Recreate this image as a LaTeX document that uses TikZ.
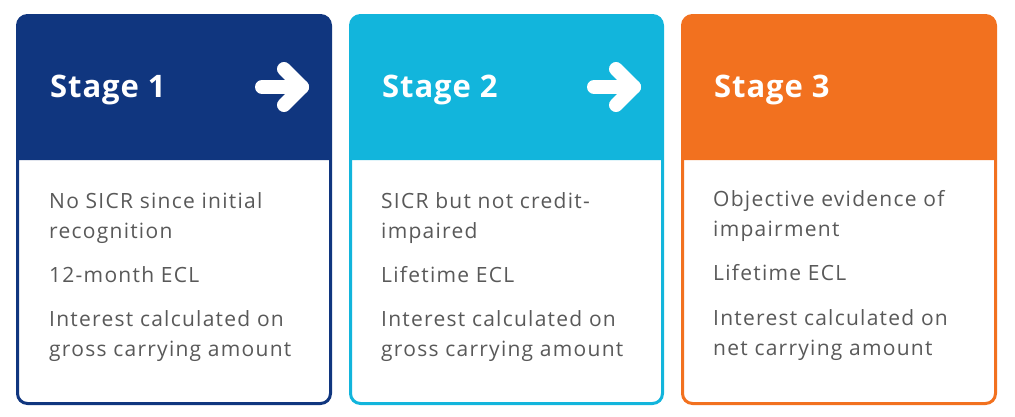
\documentclass[tikz,border=0pt]{standalone}
\usepackage{fontspec}
\setmainfont{Open Sans}
\newfontfamily\bodyfont[LetterSpace=6]{Open Sans}
\newfontfamily\titlefont[LetterSpace=3]{Open Sans}
\definecolor{cA}{HTML}{10367F}
\definecolor{cB}{HTML}{12B5DC}
\definecolor{cC}{HTML}{F2711F}
\definecolor{bodygrey}{HTML}{595959}
\tikzset{
  cardborder/.style={line width=3pt, rounded corners=10pt, fill=white},
  stagetitle/.style={anchor=base west, inner sep=0pt, text=white, font=\titlefont\fontsize{31}{36}\selectfont\bfseries},
  bodytext/.style={anchor=base west, inner sep=0pt, text=bodygrey, align=left, font=\bodyfont\fontsize{21}{30}\selectfont},
  arrowicon/.style={draw=white, line width=14pt, line cap=round, line join=round},
}
\begin{document}
\begin{tikzpicture}[x=1pt,y=-1pt]
\useasboundingbox (0,0) rectangle (1015,416);
% card 1
\draw[cardborder, draw=cA] (17.5,15.5) rectangle (330.5,403.5);
\fill[cA] (17.5,160) [rounded corners=10pt] -- (17.5,15.5) -- (330.5,15.5) [sharp corners] -- (330.5,160) -- cycle;
% card 2
\draw[cardborder, draw=cB] (350.5,15.5) rectangle (662.5,403.5);
\fill[cB] (350.5,160) [rounded corners=10pt] -- (350.5,15.5) -- (662.5,15.5) [sharp corners] -- (662.5,160) -- cycle;
% card 3
\draw[cardborder, draw=cC] (682.5,15.5) rectangle (995.5,403.5);
\fill[cC] (682.5,160) [rounded corners=10pt] -- (682.5,15.5) -- (995.5,15.5) [sharp corners] -- (995.5,160) -- cycle;
% titles
\node[stagetitle] (t1) at (50,97) {Stage 1};
\node[stagetitle] (t2) at (382,97) {Stage 2};
\node[stagetitle] (t3) at (714,97) {Stage 3};
% arrow icons
\coordinate (a1s) at (262,87); \coordinate (a1e) at (302,87);
\coordinate (a1u) at (284,69); \coordinate (a1d) at (284,105);
\draw[arrowicon] (a1s) -- (a1e);
\draw[arrowicon] (a1u) -- (a1e) -- (a1d);
\coordinate (a2s) at (594,87); \coordinate (a2e) at (634,87);
\coordinate (a2u) at (616,69); \coordinate (a2d) at (616,105);
\draw[arrowicon] (a2s) -- (a2e);
\draw[arrowicon] (a2u) -- (a2e) -- (a2d);
% body card 1 (multi-line nodes: base = last line)
\node[bodytext] (b1a) at (49,238) {No SICR since initial\\recognition};
\node[bodytext] (b1b) at (49,282) {12-month ECL};
\node[bodytext] (b1c) at (49,356) {Interest calculated on\\gross carrying amount};
% body card 2
\node[bodytext] (b2a) at (381,238) {SICR but not credit-\\impaired};
\node[bodytext] (b2b) at (381,282) {Lifetime ECL};
\node[bodytext] (b2c) at (381,356) {Interest calculated on\\gross carrying amount};
% body card 3
\node[bodytext] (b3a) at (713,236) {Objective evidence of\\impairment};
\node[bodytext] (b3b) at (713,280) {Lifetime ECL};
\node[bodytext] (b3c) at (713,355) {Interest calculated on\\net carrying amount};
\end{tikzpicture}
\end{document}
